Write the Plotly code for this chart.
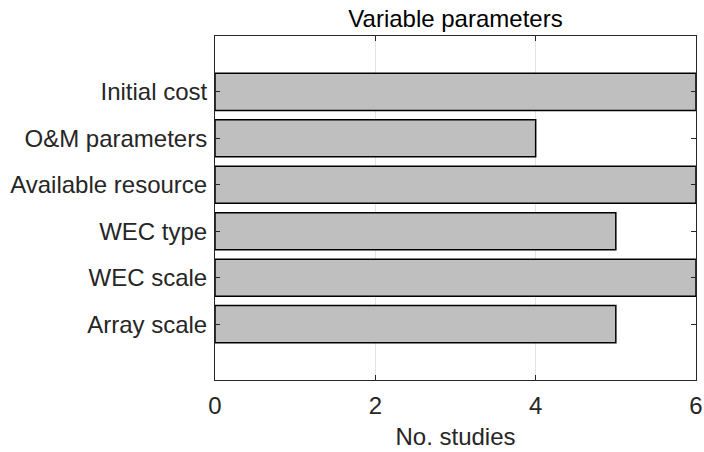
import plotly.graph_objects as go

# Study counts per variable parameter (top to bottom as shown)
parameters = ["Initial cost", "O&M parameters", "Available resource",
              "WEC type", "WEC scale", "Array scale"]
studies = [6, 4, 6, 5, 6, 5]
x_ticks = [0, 2, 4, 6]

FONT = "Liberation Sans, Arial, Helvetica, sans-serif"
AXIS_COLOR = "#262626"
FS = 24

fig = go.Figure(
    go.Bar(
        x=studies,
        y=parameters,
        orientation="h",
        width=0.8,
        marker=dict(color="#bfbfbf", line=dict(color="#000000", width=1.5)),
        hoverinfo="x+y",
    )
)

fig.update_layout(
    width=704,
    height=452,
    margin=dict(l=215, r=8, t=36, b=72, autoexpand=False),
    paper_bgcolor="white",
    plot_bgcolor="white",
    showlegend=False,
    font=dict(family=FONT, size=FS, color=AXIS_COLOR),
    title=dict(
        text="Variable parameters",
        x=0.5, xref="paper", xanchor="center",
        y=1, yref="paper", yanchor="bottom",
        pad=dict(b=9),
        font=dict(family=FONT, size=FS, color="#000000"),
    ),
)

fig.update_xaxes(
    range=[0, 6],
    tickvals=x_ticks,
    ticktext=[str(v) for v in x_ticks],
    ticks="inside",
    ticklen=5,
    tickcolor=AXIS_COLOR,
    showline=True,
    linecolor=AXIS_COLOR,
    linewidth=1,
    mirror="ticks",
    showgrid=True,
    gridcolor="#e3e3e3",
    gridwidth=1,
    zeroline=False,
    automargin=False,
    ticklabelstandoff=4,
    title=dict(text="No. studies", standoff=10, font=dict(size=FS)),
    tickfont=dict(size=FS),
)

fig.update_yaxes(
    type="category",
    categoryorder="array",
    categoryarray=parameters[::-1],
    range=[-1.2, len(parameters) - 1 + 1.2],
    ticks="inside",
    ticklen=5,
    tickcolor=AXIS_COLOR,
    showline=True,
    linecolor=AXIS_COLOR,
    linewidth=1,
    mirror="ticks",
    showgrid=False,
    zeroline=False,
    automargin=False,
    ticklabelstandoff=2,
    tickfont=dict(size=FS),
)

fig.write_html("out.html")
